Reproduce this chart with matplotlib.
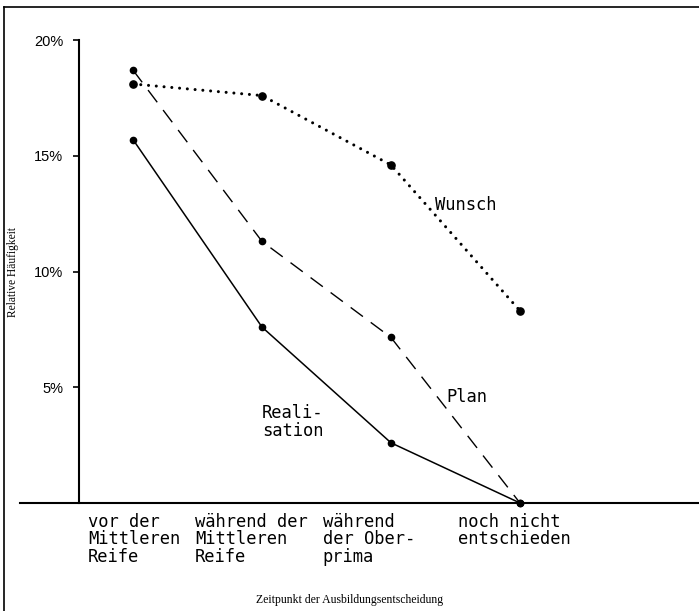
import matplotlib
matplotlib.use("Agg")
import matplotlib.pyplot as plt
from matplotlib.lines import Line2D

plt.rcParams['lines.scale_dashes'] = False

categories = ["vor der\nMittleren\nReife",
              "während der\nMittleren\nReife",
              "während\nder Ober-\nprima",
              "noch nicht\nentschieden"]
wunsch = [18.1, 17.6, 14.6, 8.3]
plan = [18.7, 11.3, 7.15, 0.0]
realisation = [15.7, 7.6, 2.6, 0.0]
yticks = [5, 10, 15, 20]
ytick_labels = ["5%", "10%", "15%", "20%"]

W, H = 699, 611
fig = plt.figure(figsize=(W / 100, H / 100), dpi=100)

# axes box in pixels
ax_left, ax_right, ax_bottom, ax_top = 20, 699, 503, 40
ax = fig.add_axes([ax_left / W, 1 - ax_bottom / H,
                   (ax_right - ax_left) / W, (ax_bottom - ax_top) / H])

x0_px, dx_px = 133, 129
ax.set_xlim((ax_left - x0_px) / dx_px, (ax_right - x0_px) / dx_px)
ax.set_ylim(0, 20)

xs = list(range(len(categories)))
mono = "DejaVu Sans Mono"

ax.plot(xs, realisation, color="black", lw=1.1, marker="o", ms=4.5,
        clip_on=False, solid_capstyle="round")
ax.plot(xs, plan, color="black", lw=1.0, linestyle=(0, (11, 7)), marker="o",
        ms=4.5, clip_on=False)
ax.plot(xs, wunsch, color="black", lw=2.2, linestyle=(0, (0.01, 5.6)),
        dash_capstyle="round", marker="o", ms=5.2, clip_on=False)

# spines
for s in ["top", "right"]:
    ax.spines[s].set_visible(False)
ax.spines["left"].set_position(("data", (79 - x0_px) / dx_px))
ax.spines["left"].set_bounds(0, 20)
ax.spines["left"].set_linewidth(1.5)
ax.spines["bottom"].set_linewidth(1.5)

ax.set_xticks([])
ax.set_yticks(yticks)
ax.set_yticklabels(ytick_labels, family="Liberation Sans", fontsize=10.5)
ax.tick_params(axis="y", direction="out", length=4.5, width=1.2, pad=7)

# category labels
label_dx = [-0.35, -0.52, -0.53, -0.48]
for i, lab in enumerate(categories):
    ax.text(i + label_dx[i], -0.42, lab, ha="left", va="top", family=mono,
            fontsize=12.3, linespacing=0.98, clip_on=False)

# series labels
ax.text(2.34, 12.87, "Wunsch", family=mono, fontsize=12.3, ha="left", va="center")
ax.text(2.43, 4.58, "Plan", family=mono, fontsize=12.3, ha="left", va="center")
ax.text(1.0, 3.5, "Reali-\nsation", family=mono, fontsize=12.3, ha="left",
        va="center", linespacing=0.98)

fig.text(13 / W, 1 - 272 / H, "Relative Häufigkeit", rotation=90,
         ha="center", va="center", family="Liberation Serif", fontsize=8.3)
fig.text(350 / W, 1 - 600 / H, "Zeitpunkt der Ausbildungsentscheidung",
         ha="center", va="center", family="Liberation Serif", fontsize=8.5)

# frame lines (left and top)
fig.add_artist(Line2D([4 / W, 4 / W], [0, 1 - 7 / H], color="black", lw=1.2))
fig.add_artist(Line2D([4 / W, 1], [1 - 7 / H, 1 - 7 / H], color="black", lw=1.2))

fig.savefig("out.png", dpi=100)
